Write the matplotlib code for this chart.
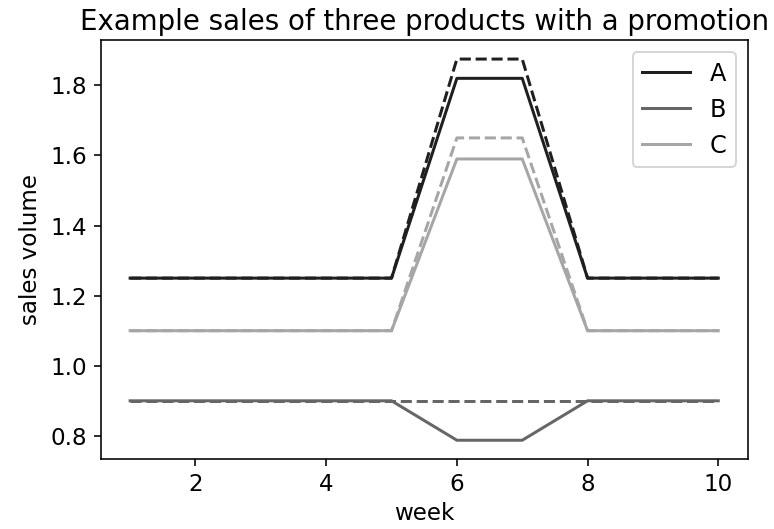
import numpy as np
import matplotlib
matplotlib.use("Agg")
import matplotlib.pyplot as plt

# weeks and sales (solid = actual, dashed = expected with promotion)
week = [1, 2, 3, 4, 5, 6, 7, 8, 9, 10]
a_sales = [1.25, 1.25, 1.25, 1.25, 1.25, 1.82, 1.82, 1.25, 1.25, 1.25]
a_promo = [1.25, 1.25, 1.25, 1.25, 1.25, 1.875, 1.875, 1.25, 1.25, 1.25]
b_sales = [0.9, 0.9, 0.9, 0.9, 0.9, 0.7875, 0.7875, 0.9, 0.9, 0.9]
b_promo = [0.9, 0.9, 0.9, 0.9, 0.9, 0.9, 0.9, 0.9, 0.9, 0.9]
c_sales = [1.1, 1.1, 1.1, 1.1, 1.1, 1.59, 1.59, 1.1, 1.1, 1.1]
c_promo = [1.1, 1.1, 1.1, 1.1, 1.1, 1.65, 1.65, 1.1, 1.1, 1.1]

colors = ["0.12", "0.4", "0.65"]

plt.rcParams["font.size"] = 11.5

fig = plt.figure(figsize=(774 / 144, 529 / 144), dpi=144)
ax = fig.add_axes([100.7 / 774, (529 - 459.3) / 529,
                   (747.7 - 100.7) / 774, (459.3 - 40) / 529])

ax.plot(week, a_sales, color=colors[0], label="A")
ax.plot(week, b_sales, color=colors[1], label="B")
ax.plot(week, c_sales, color=colors[2], label="C")
ax.plot(week, a_promo, color=colors[0], linestyle="--")
ax.plot(week, b_promo, color=colors[1], linestyle="--")
ax.plot(week, c_promo, color=colors[2], linestyle="--")

ax.set_title("Example sales of three products with a promotion", pad=5)
ax.set_xlabel("week", labelpad=3)
ax.set_ylabel("sales volume")
ax.legend(loc="upper right", fontsize=12)

fig.savefig("out.png", dpi=144)
